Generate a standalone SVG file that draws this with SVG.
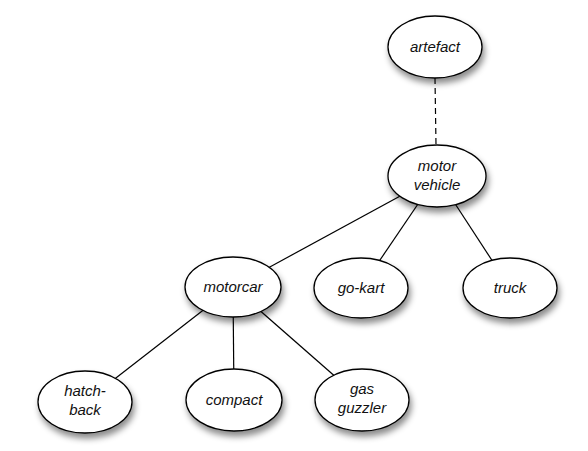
<svg xmlns="http://www.w3.org/2000/svg" width="588" height="451" viewBox="0 0 588 451">
<defs>
<filter id="sh" x="-30%" y="-30%" width="160%" height="180%">
<feDropShadow dx="2" dy="5" stdDeviation="3" flood-color="#000" flood-opacity="0.45"/>
</filter>
<style>
.n ellipse{fill:#fff;stroke:#000;stroke-width:1.3;filter:url(#sh)}
.n text{font-family:"Liberation Sans",Arial,sans-serif;font-style:italic;font-size:15px;text-anchor:middle;fill:#111}
.e line{stroke:#000;stroke-width:1.2}
.d{stroke-dasharray:6,4}
</style>
</defs>
<rect width="588" height="451" fill="#fff"/>
<g id="connectors" class="e">
<line class="d" x1="435" y1="78" x2="436" y2="145"/>
<line x1="437" y1="176" x2="233" y2="287"/>
<line x1="437" y1="176" x2="361" y2="288"/>
<line x1="437" y1="176" x2="510" y2="288"/>
<line x1="233" y1="287" x2="85" y2="402"/>
<line x1="233" y1="287" x2="234" y2="400"/>
<line x1="233" y1="287" x2="362" y2="400"/>
</g>
<g id="artefact" class="n"><ellipse cx="435" cy="47" rx="47" ry="31"/><text x="435" y="52">artefact</text></g>
<g id="motor-vehicle" class="n"><ellipse cx="437" cy="176" rx="49" ry="31"/><text x="437" y="171">motor</text><text x="437" y="190">vehicle</text></g>
<g id="motorcar" class="n"><ellipse cx="233" cy="287" rx="48" ry="30"/><text x="233" y="292">motorcar</text></g>
<g id="go-kart" class="n"><ellipse cx="361" cy="288" rx="47" ry="30"/><text x="361" y="293">go-kart</text></g>
<g id="truck" class="n"><ellipse cx="510" cy="288" rx="47" ry="30"/><text x="510" y="293">truck</text></g>
<g id="hatch-back" class="n"><ellipse cx="85" cy="402" rx="47" ry="31"/><text x="85" y="396">hatch-</text><text x="85" y="415">back</text></g>
<g id="compact" class="n"><ellipse cx="234" cy="400" rx="48" ry="31"/><text x="234" y="405">compact</text></g>
<g id="gas-guzzler" class="n"><ellipse cx="362" cy="400" rx="47" ry="31"/><text x="362" y="394">gas</text><text x="362" y="413">guzzler</text></g>
</svg>
